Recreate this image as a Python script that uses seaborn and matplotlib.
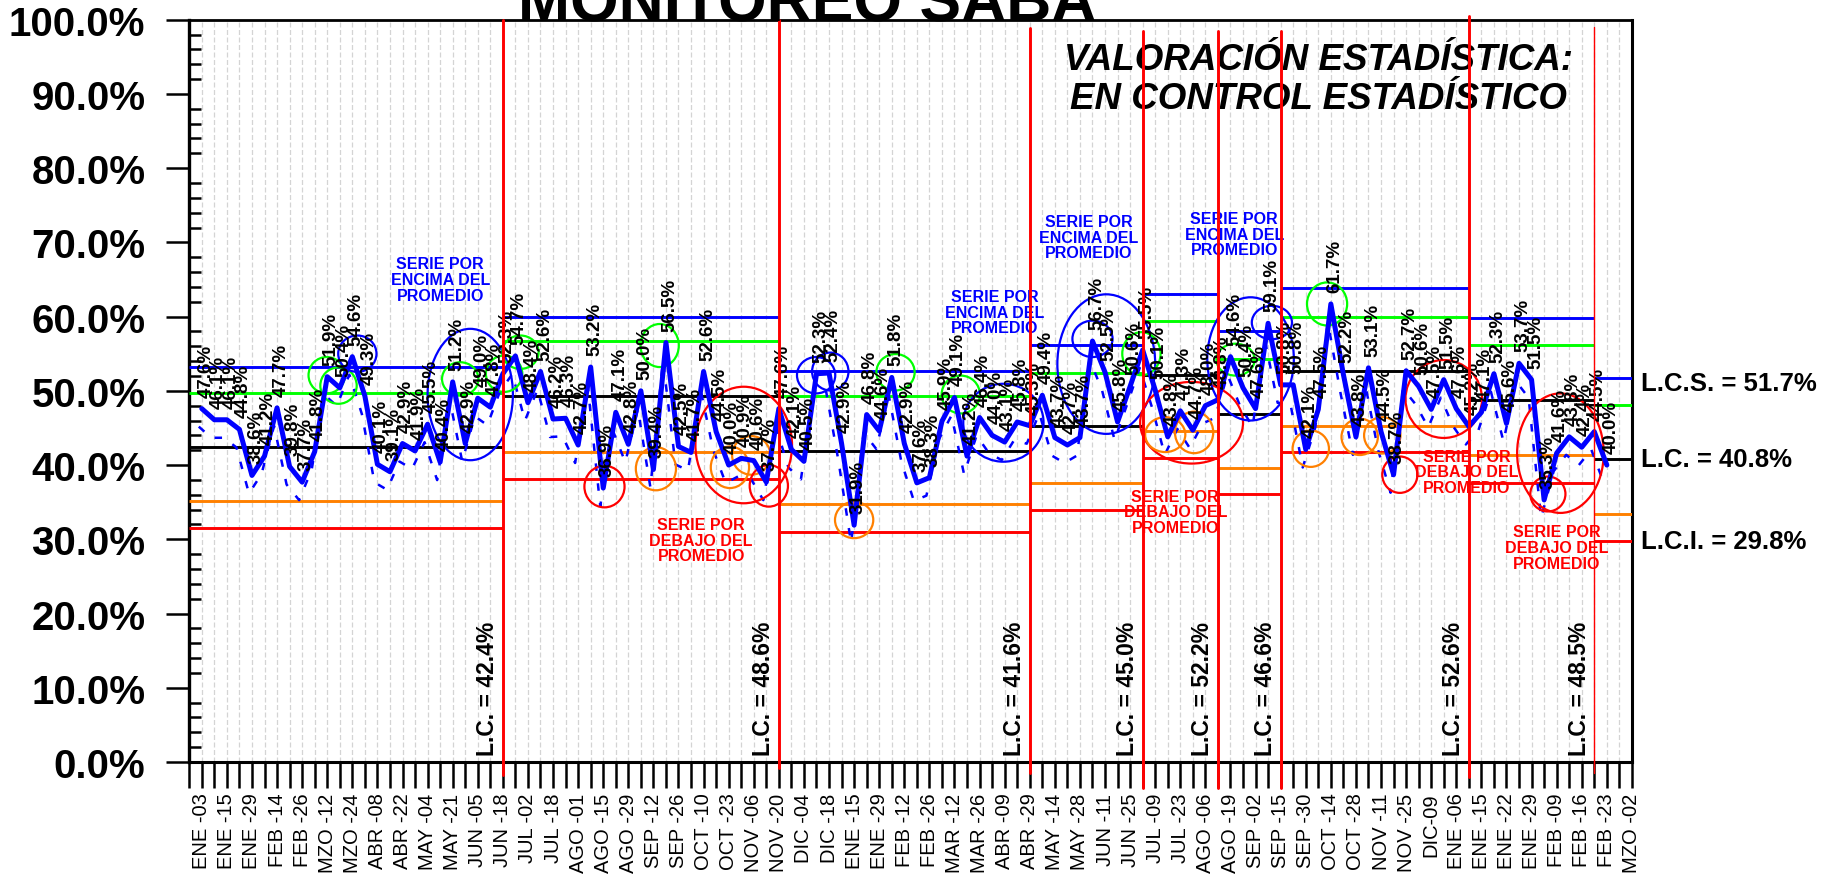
import numpy as np
import pandas as pd
import matplotlib
matplotlib.use("Agg")
import matplotlib.pyplot as plt
from matplotlib.patches import Ellipse
from matplotlib.transforms import offset_copy, blended_transform_factory
import seaborn as sns

# weekly values (%)
values = [47.6, 46.1, 46.1, 44.8, 38.6, 41.2, 47.7, 39.8, 37.7, 41.8,
          51.9, 50.4, 54.6, 49.3, 40.1, 39.1, 42.9, 41.9, 45.5, 40.4,
          51.2, 42.9, 49.0, 47.8, 52.3, 54.7, 48.4, 52.6, 46.2, 46.3,
          42.7, 53.2, 36.9, 47.1, 42.8, 50.0, 39.4, 56.5, 42.5, 41.7,
          52.6, 44.5, 40.0, 40.9, 40.6, 37.7, 47.6, 42.1, 40.5, 52.3,
          52.4, 42.9, 31.9, 46.8, 44.6, 51.8, 42.9, 37.6, 38.3, 45.9,
          49.1, 41.2, 46.4, 44.0, 43.1, 45.8, 45.3, 49.4, 43.7, 42.7,
          43.7, 56.7, 52.5, 45.8, 50.6, 55.5, 50.1, 43.8, 47.3, 44.7,
          48.0, 48.8, 54.6, 50.4, 47.6, 59.1, 50.8, 50.8, 42.1, 47.5,
          61.7, 52.2, 43.8, 53.1, 44.5, 38.7, 52.7, 50.6, 47.5, 51.5,
          47.6, 45.2, 47.1, 52.3, 45.6, 53.7, 51.5, 35.3, 41.6, 43.8,
          42.4, 44.5, 40.0]

date_labels = ["ENE -03", "ENE -15", "ENE -29", "FEB -14", "FEB -26", "MZO -12", "MZO -24",
               "ABR -08", "ABR -22", "MAY -04", "MAY -21", "JUN -05", "JUN -18", "JUL -02",
               "JUL -18", "AGO -01", "AGO -15", "AGO -29", "SEP -12", "SEP -26", "OCT -10",
               "OCT -23", "NOV -06", "NOV -20", "DIC -04", "DIC -18", "ENE -15", "ENE -29",
               "FEB -12", "FEB -26", "MAR -12", "MAR -26", "ABR -09", "ABR -29", "MAY -14",
               "MAY -28", "JUN -11", "JUN -25", "JUL -09", "JUL -23", "AGO -06", "AGO -19",
               "SEP -02", "SEP -15", "SEP -30", "OCT -14", "OCT -28", "NOV -11", "NOV -25",
               "DIC-09", "ENE -06", "ENE -15", "ENE -22", "ENE -29", "FEB -09", "FEB -16",
               "FEB -23", "MZO -02"]

# control limits per segment
seg_bounds = [-1, 24, 46, 66, 75, 81, 86, 101, 111, 114]
lcs  = [53.2, 60.0, 52.7, 56.2, 63.0, 58.0, 63.9, 59.8, 51.7]
lcs2 = [49.7, 56.7, 49.3, 52.4, 59.4, 54.3, 60.0, 56.2, 48.1]
lc   = [42.4, 49.3, 41.9, 45.2, 52.1, 46.9, 52.7, 48.7, 40.8]
lci2 = [35.2, 41.8, 34.7, 37.6, 44.6, 39.6, 45.3, 41.3, 33.4]
lci  = [31.5, 38.1, 31.0, 34.0, 41.0, 36.1, 41.7, 37.6, 29.8]
lc_text = [42.4, 48.6, 41.6, 45.0, 52.2, 46.6, 52.6, 48.5]

# hand drawn circles: (x, y, width, height, colour)
circles = [
    (9.96, 52.1, 2.9, 4.9, "g"), (10.9, 50.7, 2.9, 4.9, "g"), (12.4, 55.0, 3.05, 4.9, "b"),
    (21.4, 49.5, 6.8, 17.7, "b"), (20.6, 51.6, 2.9, 4.5, "g"), (24.1, 52.3, 2.9, 4.9, "g"),
    (25.4, 55.2, 2.9, 4.5, "g"), (32.1, 37.1, 3.2, 5.6, "r"), (36.2, 39.5, 3.2, 5.8, "o"),
    (36.5, 56.1, 3.05, 5.8, "g"), (43.2, 42.7, 7.7, 15.7, "r"), (42.1, 39.7, 3.05, 5.6, "o"),
    (43.8, 41.3, 3.05, 5.2, "o"), (45.2, 37.2, 3.05, 5.6, "r"), (48.97, 52.1, 3.05, 4.9, "b"),
    (50.1, 52.6, 2.9, 5.1, "b"), (52.0, 32.6, 3.05, 4.9, "o"), (55.3, 52.5, 3.05, 4.9, "g"),
    (60.5, 49.5, 3.05, 5.1, "g"), (63.9, 45.7, 6.4, 10.5, "b"), (72.1, 53.6, 7.8, 18.8, "b"),
    (71.0, 57.0, 3.2, 4.9, "b"), (74.9, 55.0, 3.05, 5.8, "g"), (78.9, 45.7, 8.2, 11.0, "r"),
    (76.8, 44.1, 3.2, 4.7, "o"), (79.1, 44.4, 3.05, 5.6, "o"), (83.6, 54.3, 6.9, 16.6, "b"),
    (82.4, 54.2, 3.05, 4.3, "g"), (85.3, 59.2, 3.2, 4.5, "b"), (89.7, 61.7, 3.2, 5.8, "g"),
    (88.4, 42.2, 2.9, 4.9, "o"), (92.3, 43.8, 2.9, 4.9, "o"), (94.1, 44.0, 2.9, 4.9, "o"),
    (95.5, 38.7, 2.8, 4.9, "r"), (99.0, 48.9, 6.1, 10.5, "r"), (108.3, 41.6, 6.9, 16.1, "r"),
    (107.3, 36.1, 2.8, 4.7, "r"),
]

# notes (x, y)
notes_above = [(19.0, 65.0), (63.2, 60.6), (70.7, 70.7), (82.3, 71.1)]
notes_below = [(39.8, 29.9), (77.6, 33.7), (100.8, 39.1), (108.0, 28.9)]

BLUE, GREEN, ORANGE, RED = "#0000FF", "#00FF00", "#FF8000", "#FF0000"
cmap = {"b": BLUE, "g": GREEN, "o": ORANGE, "r": RED}

sns.set_theme(style="white")
plt.rcParams['font.family'] = ['Liberation Sans', 'DejaVu Sans']

fig = plt.figure(figsize=(18.39, 8.79), dpi=100)
ax = fig.add_axes([0.1029, 0.132, 0.7845, 0.8445])

df = pd.DataFrame({"semana": np.arange(len(values)), "valor": values})

# main series + dashed shadow
sns.lineplot(data=df, x="semana", y="valor", ax=ax, color=BLUE, lw=3.6, zorder=6)
shadow = offset_copy(ax.transData, fig=fig, x=-3, y=-18, units='dots')
ax.plot(df.semana, df.valor, transform=shadow, color=BLUE, lw=1.8, ls=(0, (3, 5)), zorder=5)

# segment limit lines
for s in range(len(lc)):
    x0, x1 = seg_bounds[s], seg_bounds[s + 1]
    for arr, col in [(lcs, BLUE), (lcs2, GREEN), (lc, "black"), (lci2, ORANGE), (lci, RED)]:
        ax.hlines(arr[s], x0, x1, colors=col, lw=2.1, zorder=3)

# red dividers
red_ymin = [-0.018, -0.008, -0.015, -0.035, -0.035, -0.035, -0.02, -0.015]
red_ymax = [1.0, 1.0, 0.989, 0.985, 0.985, 0.985, 1.005, 0.99]
red_lw = [2.1, 2.1, 2.1, 2.1, 2.1, 2.1, 2.1, 1.0]
for b, y0, y1, w in zip(seg_bounds[1:-1], red_ymin, red_ymax, red_lw):
    ax.axvline(b, ymin=y0, ymax=y1, color=RED, lw=w, clip_on=False, zorder=9)

for b, t in zip(seg_bounds[1:-1], lc_text):
    ax.text(b - 1.2, 1.0, f"L.C. = {t:.1f}%", rotation=90, ha="center", va="bottom",
            fontsize=16.5, fontweight="bold", color="black", zorder=4)

# circles
for x, y, w, h, c in circles:
    ax.add_patch(Ellipse((x, y), w, h, fill=False, edgecolor=cmap[c], lw=1.6, zorder=5))

# value labels
for x, v in zip(df.semana, df.valor):
    ax.annotate(f"{v:.1f}%", (x, v), xytext=(4, 12), textcoords="offset pixels",
                rotation=90, ha="center", va="bottom", fontsize=13.5, fontweight="bold",
                color="black", zorder=8)

for x, y in notes_above:
    ax.text(x, y, "SERIE POR\nENCIMA DEL\nPROMEDIO", ha="center", va="center", color=BLUE,
            fontsize=11.5, fontweight="bold", multialignment="center", linespacing=1.05, zorder=4)
for x, y in notes_below:
    ax.text(x, y, "SERIE POR\nDEBAJO DEL\nPROMEDIO", ha="center", va="center", color=RED,
            fontsize=11.5, fontweight="bold", multialignment="center", linespacing=1.05, zorder=4)

# right side limits
tr = blended_transform_factory(ax.transAxes, ax.transData)
for val, name, dy in [(lcs[-1], "L.C.S.", -0.7), (lc[-1], "L.C.", 0.0), (lci[-1], "L.C.I.", 0.0)]:
    ax.text(1.006, val + dy, f"{name} = {val:.1f}%", transform=tr, ha="left", va="center",
            fontsize=18.5, fontweight="bold", color="black")

# titles
fig.text(0.439, 0.9753, "MONITOREO SABA", ha="center", va="baseline", fontsize=45,
         fontweight="bold", color="black")
ax.text(0.7167, 0.909, "VALORACIÓN ESTADÍSTICA:\nEN CONTROL ESTADÍSTICO", transform=fig.transFigure,
        ha="center", va="center", fontsize=26.5, fontweight="bold", style="italic",
        multialignment="center", linespacing=1.14, color="black", zorder=2)

# axes
ax.set_xlim(-1, 114)
ax.set_ylim(0, 100)
ticks = list(range(-1, 115))
ax.set_xticks(ticks)
ax.set_xticklabels([date_labels[t // 2] if (t >= 0 and t % 2 == 0) else "" for t in ticks])
ax.set_yticks(range(0, 101, 10))
ax.set_yticklabels([f"{v:.1f}%" for v in range(0, 101, 10)])
ax.set_yticks(range(0, 101, 2), minor=True)
ax.set_xlabel("")
ax.set_ylabel("")

ax.tick_params(axis="y", which="major", direction="out", length=16.5, width=1.8,
               labelsize=29, pad=15, left=True, color="black", labelcolor="black")
ax.tick_params(axis="y", which="minor", direction="in", length=8.6, width=1.8, left=True, color="black")
ax.tick_params(axis="x", which="major", direction="out", length=19, width=1.8,
               labelsize=14.5, pad=3, bottom=True, labelrotation=90, color="black",
               labelcolor="black")
for lbl in ax.get_yticklabels():
    lbl.set_fontweight("bold")

ax.grid(axis="x", color="#d4d4d4", ls=(0, (4, 2)), lw=0.9)
ax.grid(axis="y", visible=False)
ax.set_axisbelow(True)

for side, w in [("left", 2.4), ("bottom", 2.2), ("top", 2.0), ("right", 2.2)]:
    ax.spines[side].set_color("black")
    ax.spines[side].set_linewidth(w)

fig.savefig("out.png", dpi=100, facecolor="white")
